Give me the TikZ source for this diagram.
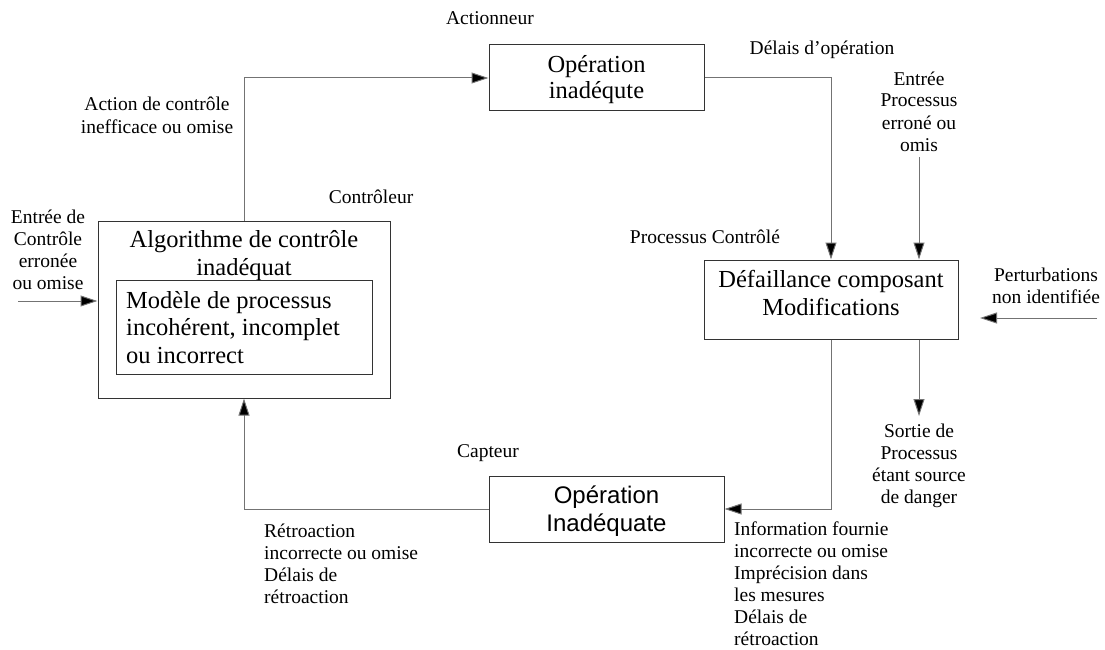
\documentclass[tikz,border=0pt]{standalone}
\usepackage{fontspec}
\setmainfont{Liberation Serif}
\setsansfont{Liberation Sans}
\usetikzlibrary{arrows.meta}
\tikzset{
  box/.style={draw=black!80, line width=1pt, inner sep=0pt},
  boxtxt/.style={font=\fontsize{24.5}{27.5}\selectfont, align=center, inner sep=0pt, anchor=base},
  lbl/.style={font=\fontsize{19.5}{22}\selectfont, align=center, inner sep=0pt, anchor=base},
  lbll/.style={font=\fontsize{19.5}{22}\selectfont, align=left, inner sep=0pt, anchor=base west},
  conn/.style={draw=black!55, line width=1pt},
  arr/.style={conn, -{Triangle[length=17pt,width=11pt,fill=black]}},
}
\begin{document}
\begin{tikzpicture}[x=1pt,y=-1pt]
\useasboundingbox (0,0) rectangle (1105,650);
% boxes (text anchors at the baseline of the last line)
\node[box, minimum width=292pt, minimum height=177pt] (ctrl) at (244,309.5) {};
\node[boxtxt] (ctrltxt) at (244,275) {Algorithme de contrôle\\inadéquat};
\node[box, minimum width=256pt, minimum height=94pt] (model) at (244,327) {};
\node[boxtxt, align=left, anchor=base west] (modeltxt) at (126,363) {Modèle de processus\\incohérent, incomplet\\ou incorrect};
\node[box, minimum width=215pt, minimum height=66pt] (op1) at (596.5,78) {};
\node[boxtxt, font=\fontsize{24.5}{26}\selectfont] (op1txt) at (596.5,99) {Opération\\inadéqute};
\node[box, minimum width=254pt, minimum height=79pt] (def) at (831,299.5) {};
\node[boxtxt] (deftxt) at (831,315) {Défaillance composant\\Modifications};
\node[box, minimum width=235pt, minimum height=66pt] (cap) at (606.5,509) {};
\node[boxtxt, font=\sffamily\fontsize{24}{28}\selectfont] (captxt) at (606.5,531) {Opération\\Inadéquate};
% labels
\node[lbl] (actionneur) at (490,25) {Actionneur};
\node[lbl] (delais) at (822,55) {Délais d'opération};
\node[lbl] (entproc) at (919,151) {Entrée\\Processus\\erroné ou\\omis};
\node[lbl] (action) at (157,133) {Action de contrôle\\inefficace ou omise};
\node[lbl] (controleur) at (371,203) {Contrôleur};
\node[lbl] (entctrl) at (48,289) {Entrée de\\Contrôle\\erronée\\ou omise};
\node[lbl] (proc) at (705,243) {Processus Contrôlé};
\node[lbl] (pert) at (1046,303) {Perturbations\\non identifiée};
\node[lbl] (capteur) at (488,457) {Capteur};
\node[lbll] (retro) at (264,603) {Rétroaction\\incorrecte ou omise\\Délais de\\rétroaction};
\node[lbll] (info) at (734,645) {Information fournie\\incorrecte ou omise\\Imprécision dans\\les mesures\\Délais de\\rétroaction};
\node[lbl, anchor=north] (sortie) at (919,424) {Sortie de\\Processus\\étant source\\de danger};
% coordinates
\coordinate (ep) at (919,157);
\coordinate (pertA) at (1097,318);
\coordinate (pertB) at (980,318);
\coordinate (ecA) at (18,301);
\coordinate (sortietop) at (919,416);
% connectors
\draw[arr] (ctrl.north) |- (op1.west);
\draw[arr] (op1.east) -| (def.north);
\draw[arr] (ep) -- (ep |- def.north);
\draw[arr] (pertA) -- (pertB);
\draw[arr] (def.south) |- (cap.east);
\draw[arr] (def.south -| sortietop) -- (sortietop);
\draw[arr] (cap.west) -| (ctrl.south);
\draw[arr] (ecA) -- (ecA -| ctrl.west);
\end{tikzpicture}
\end{document}
